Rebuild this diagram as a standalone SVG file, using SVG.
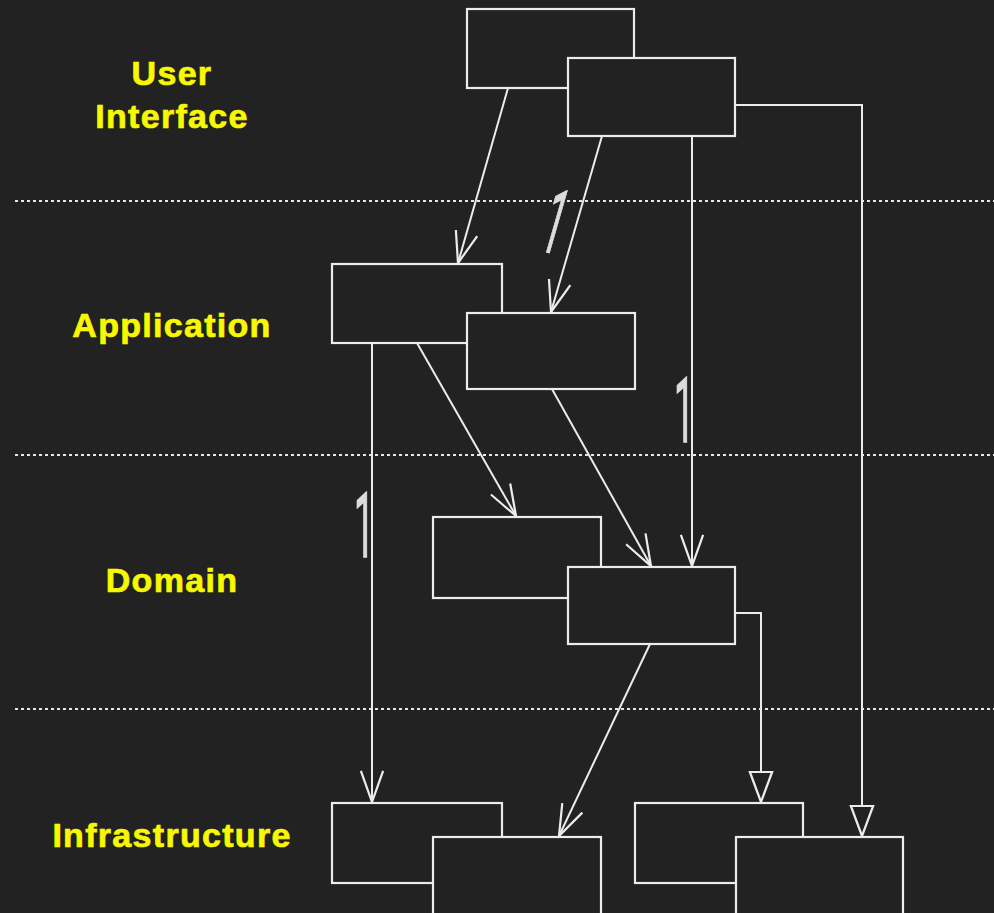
<svg xmlns="http://www.w3.org/2000/svg" width="994" height="913" viewBox="0 0 994 913">
<style>
.bg{fill:#222222}
.box{fill:#222222;stroke:#ececec;stroke-width:2.2}
.sep{stroke:#e6e6e6;stroke-width:2;stroke-dasharray:3 3;fill:none}
.con{stroke:#ececec;stroke-width:2;fill:none}
.arr{marker-end:url(#open)}
.gen{marker-end:url(#tri)}
.layer{font-family:"Liberation Sans",Arial,sans-serif;font-weight:bold;font-size:34px;fill:#f8f800;stroke:#f8f800;stroke-width:0.7;letter-spacing:1.3px;text-anchor:middle}
.mult{font-family:Roboto,"Open Sans",sans-serif;font-size:36px;fill:#dcdcdc;stroke:#dcdcdc;stroke-width:0.6;text-anchor:middle}
</style>
<defs>
<marker id="open" markerUnits="userSpaceOnUse" markerWidth="40" markerHeight="40" viewBox="-32 -14 36 28" refX="0" refY="0" orient="auto">
<path d="M-28,-10 L0,0 L-28,10" fill="none" stroke="#ececec" stroke-width="2"/>
</marker>
<marker id="tri" markerUnits="userSpaceOnUse" markerWidth="40" markerHeight="40" viewBox="-32 -14 36 28" refX="0" refY="0" orient="auto">
<path d="M-27,-10 L0,0 L-27,10 Z" fill="#222222" stroke="#ececec" stroke-width="2"/>
</marker>
</defs>
<rect class="bg" x="0" y="0" width="994" height="913"/>
<g id="separators">
<line class="sep" x1="15" y1="201" x2="994" y2="201"/>
<line class="sep" x1="15" y1="455" x2="994" y2="455"/>
<line class="sep" x1="15" y1="709" x2="994" y2="709"/>
</g>
<g id="labels">
<text class="layer" x="172" y="85">User</text>
<text class="layer" x="172" y="128">Interface</text>
<text class="layer" x="172" y="337">Application</text>
<text class="layer" x="172" y="592">Domain</text>
<text class="layer" x="172" y="847">Infrastructure</text>
</g>
<g id="connectors">
<line class="con arr" x1="508" y1="88" x2="458" y2="263"/>
<line class="con arr" x1="602" y1="136" x2="551" y2="312"/>
<line class="con arr" x1="692" y1="136" x2="692" y2="566"/>
<line class="con arr" x1="372" y1="343" x2="372" y2="802"/>
<line class="con arr" x1="417" y1="343" x2="516" y2="516"/>
<line class="con arr" x1="552" y1="389" x2="651" y2="566"/>
<line class="con arr" x1="650" y1="644" x2="559" y2="836"/>
<polyline class="con gen" points="735,613 761,613 761,802"/>
<polyline class="con gen" points="735,105 862,105 862,836"/>
</g>
<g id="multiplicities">
<text class="mult" transform="translate(547,252) rotate(16) scale(1,2.5)" x="0" y="0">1</text>
<text class="mult" transform="translate(364,557) scale(1,2.5)" x="0" y="0">1</text>
<text class="mult" transform="translate(684,442) scale(1,2.5)" x="0" y="0">1</text>
</g>
<g id="ui1"><rect class="box" x="467" y="9" width="167" height="79"/></g>
<g id="ui2"><rect class="box" x="568" y="58" width="167" height="78"/></g>
<g id="app1"><rect class="box" x="332" y="264" width="170" height="79"/></g>
<g id="app2"><rect class="box" x="467" y="313" width="168" height="76"/></g>
<g id="dom1"><rect class="box" x="433" y="517" width="168" height="81"/></g>
<g id="dom2"><rect class="box" x="568" y="567" width="167" height="77"/></g>
<g id="inf1"><rect class="box" x="332" y="803" width="170" height="80"/></g>
<g id="inf2"><rect class="box" x="433" y="837" width="168" height="90"/></g>
<g id="inf3"><rect class="box" x="635" y="803" width="168" height="80"/></g>
<g id="inf4"><rect class="box" x="736" y="837" width="167" height="90"/></g>
</svg>
